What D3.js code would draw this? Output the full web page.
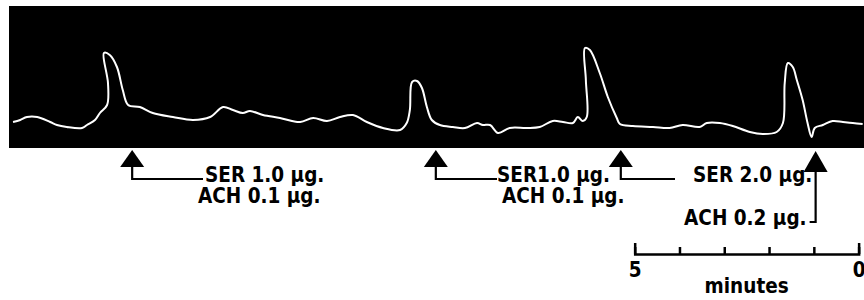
<!DOCTYPE html>
<html>
<head>
<meta charset="utf-8">
<script src="https://cdn.jsdelivr.net/npm/d3@7"></script>
<style>
  body { margin: 0; background: #fff; }
  text { font-family: "DejaVu Sans Condensed", "DejaVu Sans", sans-serif; font-weight: bold; }
</style>
</head>
<body>
<script>
// kymograph trace: time (minutes) vs. contraction (arbitrary units)
const traceTime = [0.09, 0.25, 0.40, 0.63, 0.92, 1.07, 1.29, 1.63, 1.74, 1.92, 2.03, 2.19, 2.21, 2.12, 2.25, 2.41, 2.54, 2.66,
    2.92, 3.21, 3.66, 4.11, 4.49, 4.78, 5.00, 5.22, 5.38, 5.67, 6.05, 6.50, 6.79, 7.10, 7.39, 7.68, 7.99, 8.35, 8.73, 8.88,
    8.95, 9.00, 9.11, 9.22, 9.33, 9.44, 9.62, 9.91, 10.18, 10.45, 10.58, 10.74, 10.92, 11.18, 11.56, 11.85, 12.14, 12.37,
    12.59, 12.70, 12.81, 12.90, 12.88, 12.86, 12.97, 13.19, 13.37, 13.57, 13.64, 13.93, 14.38, 14.75, 15.04, 15.42, 15.58,
    15.87, 16.16, 16.54, 16.83, 17.14, 17.28, 17.32, 17.39, 17.50, 17.59, 17.72, 17.83, 17.92, 17.99, 18.17, 18.39, 18.62,
    18.84, 19.06]
const traceValue = [26, 28, 31, 31, 26, 23, 21, 20, 23, 28, 35, 43, 65, 95, 93, 81, 58, 43,
    41, 35, 31, 28, 31, 41, 38, 35, 37, 33, 30, 26, 30, 27, 31, 33, 26, 20, 18, 25,
    38, 66, 67, 60, 41, 28, 23, 21, 20, 25, 23, 23, 15, 20, 20, 21, 27, 26,
    25, 31, 27, 31, 68, 100, 98, 75, 51, 30, 24, 22, 21, 20, 23, 21, 25,
    25, 22, 16, 14, 16, 25, 65, 85, 81, 68, 48, 25, 11, 20, 23, 27, 26,
    25, 24]

// injections
const doseTimes = [2.75, 9.53, 13.66, 18.01]
const serLabels = ["SER 1.0 µg.", "SER1.0 µg.", "SER 2.0 µg.", null]
const achLabels = ["ACH 0.1 µg.", "ACH 0.1 µg.", null, "ACH 0.2 µg."]

// time bar
const barTicks = [5, 4, 3, 2, 1, 0]
const barLabels = [5, 0]
const barStart = 13.97

const width = 864, height = 300
const fs = 20.5

const svg = d3.select("body").append("svg")
    .attr("width", width)
    .attr("height", height)

const x = d3.scaleLinear().domain([0, 19.09]).range([9, 864])
const y = d3.scaleLinear().domain([0, 142]).range([148, 6])

// black recording paper
svg.append("rect")
    .attr("x", x(0)).attr("y", y(142))
    .attr("width", x(19.09) - x(0)).attr("height", y(0) - y(142))
    .attr("fill", "#000")

const line = d3.line()
    .x((d, i) => x(traceTime[i]))
    .y(d => y(d))
    .curve(d3.curveCatmullRom.alpha(0.5))

svg.append("path")
    .datum(traceValue)
    .attr("d", line)
    .attr("fill", "none")
    .attr("stroke", "#fff")
    .attr("stroke-width", 2)
    .attr("stroke-linejoin", "round")

// arrows + labels
const ann = svg.append("g")

function arrowHead(cx, tip, base) {
    ann.append("path")
        .attr("d", `M${cx},${tip} L${cx - 12},${base} L${cx + 12},${base} Z`)
        .attr("fill", "#000")
}

function lbl(str, xx, yy, anchor) {
    ann.append("text")
        .attr("x", xx).attr("y", yy)
        .attr("text-anchor", anchor || "start")
        .attr("font-size", fs)
        .attr("fill", "#000")
        .text(str)
}

doseTimes.forEach((t, i) => {
    const cx = x(t)
    if (i < 3) {
        arrowHead(cx, 150, 167)
        const endX = [203, 497, 675][i]
        ann.append("path")
            .attr("d", `M${cx},166 V179 H${endX}`)
            .attr("fill", "none").attr("stroke", "#000").attr("stroke-width", 2.2)
        const sx = [205, 497, 693][i]
        if (serLabels[i]) lbl(serLabels[i], sx, 182)
        if (achLabels[i]) lbl(achLabels[i], [198, 502][i], 203)
    } else {
        arrowHead(cx, 151, 172)
        ann.append("path")
            .attr("d", `M${cx},171 V222 H${cx - 6}`)
            .attr("fill", "none").attr("stroke", "#000").attr("stroke-width", 2.2)
        lbl(achLabels[i], cx - 9, 225, "end")
    }
})

// 5 minute bar
const bar = d3.scaleLinear().domain([5, 0]).range([x(barStart), x(barStart + 5)])

const axis = d3.axisBottom(bar)
    .tickValues(barTicks)
    .tickSizeInner(-7)
    .tickSizeOuter(-11)
    .tickPadding(8)
    .tickFormat(d => barLabels.includes(d) ? d : "")

const gBar = svg.append("g")
    .attr("transform", "translate(0,254)")
    .call(axis)

gBar.select(".domain").attr("stroke", "#000").attr("stroke-width", 2.5)
gBar.selectAll(".tick line").attr("stroke", "#000").attr("stroke-width", 2.5)
gBar.selectAll(".tick text")
    .attr("font-size", fs)
    .attr("font-family", "DejaVu Sans Condensed, DejaVu Sans, sans-serif")
    .attr("font-weight", "bold")
    .attr("fill", "#000")

svg.append("text")
    .attr("x", (bar.range()[0] + bar.range()[1]) / 2)
    .attr("y", 293)
    .attr("text-anchor", "middle")
    .attr("font-size", fs)
    .text("minutes")
</script>
</body>
</html>
